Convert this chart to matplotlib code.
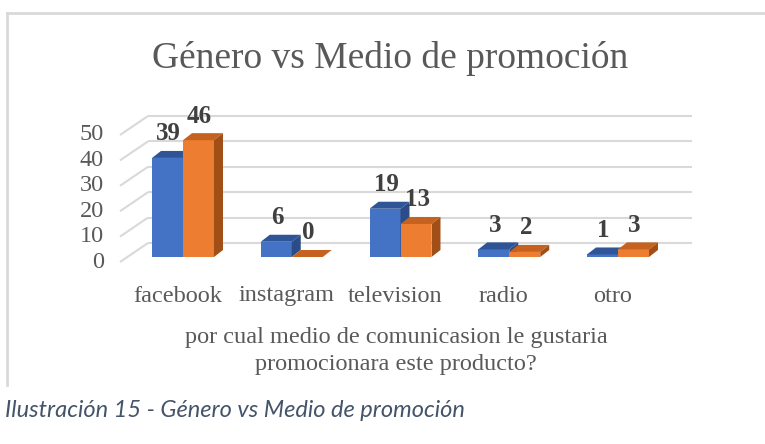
#!/usr/bin/env python3
"""Pseudo-3D clustered column chart: Género vs Medio de promoción."""

import matplotlib
matplotlib.use("Agg")
import matplotlib.pyplot as plt
from matplotlib.patches import Polygon
from matplotlib.lines import Line2D

categories = ["facebook", "instagram", "television", "radio", "otro"]
serie_a = [39, 6, 19, 3, 1]
serie_b = [46, 0, 13, 2, 3]
y_ticks = [0, 10, 20, 30, 40, 50]

title = "Género vs Medio de promoción"
x_title = "por cual medio de comunicasion le gustaria\npromocionara este producto?"
caption = "Ilustración 15 - Género vs Medio de promoción"

W, H, DPI = 765, 444, 100
PX_CAT = 108.75        # pixels per category step
PX_VAL = 2.54          # pixels per value unit
X0_PX, Y0_PX = 183, 257  # pixel of (first category, value 0)

BLUE = ("#4472C4", "#2F5597", "#2B4C87")
ORANGE = ("#ED7D31", "#C5621F", "#A24F17")
GRID = "#D9D9D9"
TXT = "#595959"

bar_w = 0.285
depth_dx = 9 / PX_CAT
depth_dy = 7 / PX_VAL
wall_front_x = (120 - X0_PX) / PX_CAT
wall_front_dy = -5 / PX_VAL
wall_back_x = (148 - X0_PX) / PX_CAT
wall_back_dy = 14 / PX_VAL
grid_end_x = (692 - X0_PX) / PX_CAT

serif = "Liberation Serif"

fig = plt.figure(figsize=(W / DPI, H / DPI), dpi=DPI)
ax = fig.add_axes([0, 0, 1, 1])
ax.set_xlim(-X0_PX / PX_CAT, (W - X0_PX) / PX_CAT)
ax.set_ylim((Y0_PX - H) / PX_VAL, Y0_PX / PX_VAL)
ax.axis("off")

# walls / gridlines
for v in y_ticks:
    ax.plot([wall_front_x, wall_back_x], [v + wall_front_dy, v + wall_back_dy],
            color=GRID, lw=1.5, zorder=1, solid_capstyle="butt")
    ax.plot([wall_back_x, grid_end_x], [v + wall_back_dy, v + wall_back_dy],
            color=GRID, lw=1.5, zorder=1, solid_capstyle="butt")
    ax.text(wall_front_x - 0.15, v + wall_front_dy, str(v), ha="right", va="center",
            fontsize=17.5, color=TXT, family=serif)


def draw_bar(x_left, val, colors, z):
    front, top, side = colors
    ax.bar(x_left, val, width=bar_w, align="edge", color=front, zorder=z, linewidth=0)
    x_r = x_left + bar_w
    ax.add_patch(Polygon([(x_left, val), (x_r, val), (x_r + depth_dx, val + depth_dy),
                          (x_left + depth_dx, val + depth_dy)],
                         closed=True, facecolor=top, edgecolor="none", zorder=z))
    if val > 0:
        ax.add_patch(Polygon([(x_r, 0), (x_r + depth_dx, depth_dy),
                              (x_r + depth_dx, val + depth_dy), (x_r, val)],
                             closed=True, facecolor=side, edgecolor="none", zorder=z))
    ax.text(x_left + bar_w / 2 + 0.01, val + 9.5, str(val), ha="center", va="center",
            fontsize=18, fontweight="bold", color="#404040", family=serif, zorder=10)


for i, (a, b) in enumerate(zip(serie_a, serie_b)):
    draw_bar(i - bar_w, a, BLUE, 3 + 2 * i)
    draw_bar(i, b, ORANGE, 4 + 2 * i)
    ax.text(i - 0.05, (Y0_PX - 296) / PX_VAL, categories[i], ha="center", va="center",
            fontsize=17.5, color=TXT, family=serif)

fig.text(390 / W, 1 - 58 / H, title, ha="center", va="center",
         fontsize=27, color=TXT, family=serif)
fig.text(396 / W, 1 - 351 / H, x_title, ha="center", va="center",
         fontsize=17.5, color=TXT, family=serif, linespacing=1.35)
fig.text(5 / W, 1 - 410 / H, caption, ha="left", va="center",
         fontsize=17, style="italic", color="#44546A", family="Lato")

# chart frame (left and top edges visible)
fig.add_artist(Line2D([7 / W, 7 / W], [1 - 13 / H, 1 - 385 / H], color=GRID, lw=2))
fig.add_artist(Line2D([7 / W, 764 / W], [1 - 13 / H, 1 - 13 / H], color=GRID, lw=2))

fig.savefig("out.png", dpi=DPI, facecolor="white")
